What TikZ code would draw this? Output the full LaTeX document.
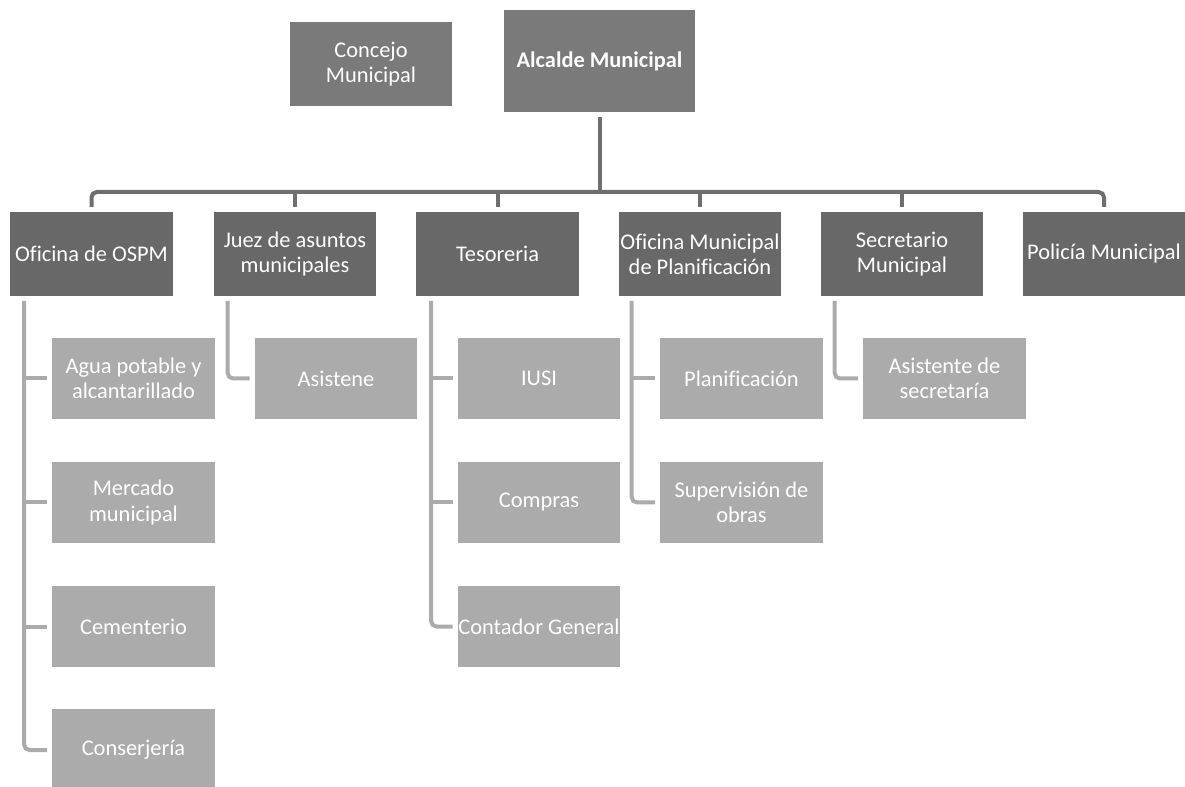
\documentclass[tikz,border=0pt]{standalone}
\usepackage{fontspec}
\setmainfont[Ligatures=NoCommon]{Carlito}
\usetikzlibrary{calc}

\definecolor{topgray}{RGB}{122,122,122}
\definecolor{midgray}{RGB}{104,104,104}
\definecolor{lowgray}{RGB}{171,171,171}
\definecolor{busgray}{RGB}{110,110,110}

\tikzset{every picture/.style={line width=0.75pt}}
\tikzset{
  box/.style={rectangle, align=center, text=white, outer sep=3.75pt, inner sep=0pt,
    font=\fontsize{16.8}{19}\selectfont},
  topbox/.style={box, fill=topgray, minimum width=121.5pt, minimum height=63pt},
  headbox/.style={box, fill=midgray, minimum width=122pt, minimum height=63pt},
  unitbox/.style={box, fill=lowgray, minimum width=122pt, minimum height=61pt},
  busline/.style={draw=busgray, line width=3pt},
  subline/.style={draw=lowgray, line width=3pt}
}

\begin{document}
\begin{tikzpicture}[x=0.75pt,y=0.75pt,yscale=-1,xscale=1]
		\useasboundingbox (0,0) rectangle (1185,787);
		\clip (0,0) rectangle (1185,787);

		\node [topbox] (concejo) at (371,64) {Concejo\\Municipal};
		\node [topbox, minimum width=143pt, minimum height=76.5pt] (alcalde) at (599.5,61) {\bfseries Alcalde Municipal};

		\node [headbox] (ospm) at (91.5,254) {Oficina de OSPM};
		\node [headbox] (juez) at (295,254) {Juez de asuntos\\municipales};
		\node [headbox] (tesoreria) at (497.5,254) {Tesoreria};
		\node [headbox] (omp) at (700,254) {Oficina Municipal\\de Planificación};
		\node [headbox] (secretario) at (902,254) {Secretario\\Municipal};
		\node [headbox] (policia) at (1104,254) {Policía Municipal};

		\node [unitbox] (agua) at (133.5,378.5) {Agua potable y\\alcantarillado};
		\node [unitbox] (mercado) at (133.5,502.5) {Mercado\\municipal};
		\node [unitbox] (cementerio) at (133.5,626.5) {Cementerio};
		\node [unitbox] (conserjeria) at (133.5,750) {Conserjería};
		\node [unitbox] (asistene) at (336,378.5) {Asistene};
		\node [unitbox] (iusi) at (539,378.5) {IUSI};
		\node [unitbox] (compras) at (539,502.5) {Compras};
		\node [unitbox] (contador) at (539,626.5) {Contador General};
		\node [unitbox] (planif) at (741.5,378.5) {Planificación};
		\node [unitbox] (superv) at (741.5,502.5) {Supervisión de\\obras};
		\node [unitbox] (asistsec) at (944.5,378.5) {Asistente de\\secretaría};

		% bus under the mayor
		\coordinate (bus) at (599.5,192);
		\draw [busline] (alcalde.south) -- (bus);
		\draw [busline, rounded corners=4] (ospm.north) |- (bus) -| (policia.north);
		\foreach \n in {juez,tesoreria,omp,secretario}
			\draw [busline] (\n.north) -- (\n.north |- bus);

		% lines to the units
		\coordinate (ospmtrunk) at ($(ospm.south west)+(19,0)$);
		\coordinate (jueztrunk) at ($(juez.south west)+(19,0)$);
		\coordinate (tesotrunk) at ($(tesoreria.south west)+(20,0)$);
		\coordinate (omptrunk) at ($(omp.south west)+(18,0)$);
		\coordinate (secrtrunk) at ($(secretario.south west)+(19,0)$);

		\draw [subline, rounded corners=4] (ospmtrunk) |- (conserjeria.west);
		\foreach \n in {agua,mercado,cementerio}
			\draw [subline] (ospmtrunk |- \n.west) -- (\n.west);
		\draw [subline, rounded corners=4] (jueztrunk) |- (asistene.west);
		\draw [subline, rounded corners=4] (tesotrunk) |- (contador.west);
		\foreach \n in {iusi,compras}
			\draw [subline] (tesotrunk |- \n.west) -- (\n.west);
		\draw [subline, rounded corners=4] (omptrunk) |- (superv.west);
		\draw [subline] (omptrunk |- planif.west) -- (planif.west);
		\draw [subline, rounded corners=4] (secrtrunk) |- (asistsec.west);

		\end{tikzpicture}
\end{document}
